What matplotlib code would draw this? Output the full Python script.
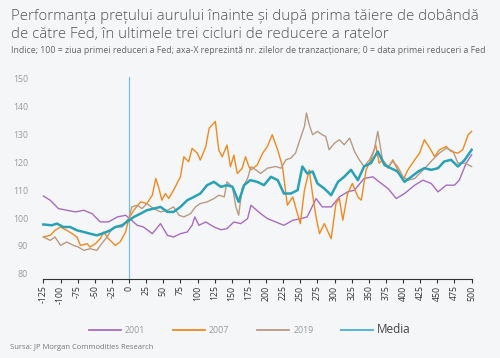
import numpy as np
import matplotlib
matplotlib.use("Agg")
import matplotlib.pyplot as plt

# Days relative to first Fed cut and index values (100 = day of first cut)
days_2001 = [-125, -115, -103, -91, -78, -66, -54, -42, -30, -17, -5, 0, 12, 21, 34, 46, 56, 65, 75, 85,
             92, 96, 102, 112, 124, 134, 143, 153, 163, 173, 178, 192, 202, 214, 226, 239, 251, 260, 273,
             282, 295, 307, 319, 329, 343, 356, 365, 378, 390, 402, 417, 429, 441, 451, 463, 475, 482, 492, 500]
vals_2001 = [107.9, 106.4, 103.4, 102.8, 102.2, 102.8, 101.6, 98.6, 98.6, 100.4, 101.0, 100.0, 97.4, 96.8,
             94.4, 98.0, 93.8, 93.2, 94.4, 95.0, 97.4, 100.4, 97.4, 98.6, 96.8, 95.8, 96.2, 98.6, 98.0, 99.8,
             104.6, 101.6, 99.8, 98.6, 97.4, 99.2, 99.8, 100.4, 107.0, 104.0, 104.0, 107.6, 109.4, 110.0,
             114.2, 114.8, 113.0, 110.6, 107.0, 108.8, 111.8, 113.6, 112.4, 109.4, 111.8, 111.8, 113.6,
             119.7, 122.7]

days_2007 = [-125, -115, -108, -100, -91, -83, -76, -71, -61, -57, -49, -42, -37, -30, -20, -13, -5, 0, 7,
             17, 26, 34, 39, 43, 48, 53, 58, 65, 75, 80, 87, 92, 100, 104, 112, 117, 124, 126, 131, 136,
             143, 148, 153, 158, 165, 170, 175, 178, 187, 195, 202, 209, 217, 224, 231, 239, 243, 250, 256,
             263, 268, 273, 278, 285, 295, 302, 307, 312, 319, 326, 334, 339, 346, 353, 360, 365, 370, 378,
             385, 392, 400, 407, 417, 424, 431, 439, 446, 453, 463, 470, 480, 487, 495, 500]
vals_2007 = [93.2, 93.8, 95.6, 96.8, 95.6, 94.4, 93.2, 90.2, 90.8, 89.6, 90.8, 92.6, 95.0, 92.6, 90.2, 91.4,
             95.0, 100.0, 102.8, 105.8, 105.2, 108.2, 114.2, 111.2, 106.4, 108.8, 107.0, 110.0, 114.8, 122.0,
             120.2, 125.0, 123.2, 120.8, 125.6, 132.3, 134.1, 134.7, 124.4, 122.0, 126.2, 118.4, 122.6, 116.0,
             117.8, 122.0, 118.4, 117.3, 119.0, 123.3, 125.7, 129.9, 124.4, 118.5, 104.6, 107.6, 104.0, 98.0,
             110.0, 117.3, 108.2, 100.4, 94.4, 98.0, 92.6, 105.2, 107.0, 99.2, 108.8, 112.4, 107.6, 106.4,
             117.3, 120.9, 126.3, 119.7, 120.9, 117.9, 120.9, 117.3, 113.6, 117.3, 120.9, 123.3, 128.1, 125.1,
             122.0, 124.5, 125.7, 123.9, 123.3, 124.5, 129.9, 131.1]

days_2019 = [-125, -115, -108, -100, -91, -81, -74, -66, -57, -47, -40, -32, -25, -17, -10, -3, 0, 4, 12, 19,
             26, 36, 46, 56, 65, 73, 80, 90, 97, 104, 114, 124, 131, 139, 143, 151, 156, 160, 165, 173, 178,
             185, 192, 202, 214, 222, 229, 236, 243, 251, 256, 259, 263, 268, 275, 282, 287, 292, 300, 307,
             314, 322, 329, 336, 343, 351, 358, 363, 370, 378, 385, 392, 400, 407, 417, 424, 434, 443, 453,
             463, 473, 480, 490, 500]
vals_2019 = [93.2, 92.0, 93.2, 90.2, 91.4, 90.2, 89.6, 88.4, 89.0, 88.4, 90.8, 93.2, 96.2, 96.8, 96.8, 99.2,
             100.0, 104.0, 104.6, 103.4, 105.2, 103.4, 102.2, 102.8, 104.0, 101.0, 100.4, 101.6, 104.0, 105.2,
             105.8, 107.0, 108.2, 107.6, 113.0, 111.2, 104.0, 101.0, 110.6, 114.2, 118.4, 117.3, 116.0, 117.9,
             118.5, 117.9, 120.9, 121.5, 123.3, 129.3, 132.9, 137.7, 133.5, 129.9, 131.1, 129.9, 129.3, 124.5,
             126.9, 128.1, 126.3, 128.7, 123.9, 120.9, 118.5, 120.9, 124.5, 131.1, 120.9, 118.5, 120.3, 118.5,
             114.8, 113.6, 114.2, 116.0, 118.5, 120.9, 123.3, 125.1, 123.9, 119.7, 119.7, 118.5]

days_media = [-125, -113, -105, -96, -86, -76, -66, -57, -47, -37, -27, -20, -10, 0, 7, 17, 26, 36, 46, 56,
              65, 75, 85, 95, 104, 114, 124, 134, 143, 151, 156, 160, 168, 177, 187, 197, 207, 217, 226, 236,
              246, 253, 260, 268, 275, 285, 295, 305, 314, 324, 334, 343, 353, 363, 373, 382, 392, 402, 412,
              422, 431, 441, 451, 460, 470, 480, 490, 500]
vals_media = [97.7, 97.4, 98.0, 96.8, 96.8, 95.6, 95.0, 94.4, 93.8, 94.6, 95.6, 96.8, 97.4, 99.2, 100.4,
              101.6, 102.8, 103.4, 104.0, 102.2, 102.2, 104.0, 106.4, 107.6, 108.8, 111.8, 113.0, 111.2, 111.8,
              111.2, 108.2, 105.8, 111.8, 113.6, 113.0, 111.8, 114.8, 113.6, 108.8, 108.8, 110.0, 118.5, 116.0,
              116.7, 112.4, 110.6, 108.2, 113.0, 114.8, 117.3, 113.6, 118.5, 119.7, 123.9, 119.0, 117.9, 116.7,
              113.0, 114.8, 116.7, 117.9, 117.3, 117.9, 120.3, 120.9, 118.5, 120.9, 124.5]

xticks = list(range(-125, 501, 25))
yticks = list(range(80, 151, 10))

bg = "#f5f6f8"
plt.rcParams["font.family"] = ["Open Sans", "DejaVu Sans"]

fig = plt.figure(figsize=(5, 3.58), dpi=100, facecolor=bg)
ax = fig.add_axes([0.084, 0.222, 0.862, 0.562], facecolor=bg)

ax.axvline(0, color="#7dbfd6", lw=0.9, zorder=1)
l1, = ax.plot(days_2001, vals_2001, color="#a86cc1", lw=1.0, label="2001")
l2, = ax.plot(days_2007, vals_2007, color="#ef8a22", lw=1.0, label="2007")
l3, = ax.plot(days_2019, vals_2019, color="#b99a82", lw=1.0, label="2019")
l4, = ax.plot(days_media, vals_media, color="#2aa1b5", lw=1.8, label="Media")

ax.set_xlim(-127, 502)
ax.set_ylim(78.3, 150.5)
ax.set_xticks(xticks)
ax.set_xticklabels([str(t) for t in xticks], rotation=90, fontsize=6.3, color="#333333")
ax.set_yticks(yticks)
ax.set_yticklabels([str(t) for t in yticks], fontsize=6.3, color="#9a9a9a")
ax.tick_params(axis="y", length=0, pad=10)
ax.tick_params(axis="x", length=3, width=0.8, color="#333333", pad=2)
for s in ["top", "right", "left"]:
    ax.spines[s].set_visible(False)
ax.spines["bottom"].set_color("#333333")
ax.spines["bottom"].set_linewidth(0.8)
ax.spines["bottom"].set_bounds(-125, 500)

fig.text(0.022, 0.975, "Performanța prețului aurului înainte și după prima tăiere de dobândă\n"
         "de către Fed, în ultimele trei cicluri de reducere a ratelor",
         fontsize=10.8, color="#555555", fontweight="light", va="top", linespacing=1.3)
fig.text(0.022, 0.86, "Indice; 100 = ziua primei reduceri a Fed; axa-X reprezintă nr. zilelor de "
         "tranzacționare; 0 = data primei reduceri a Fed",
         fontsize=6.35, color="#666666", va="center")

leg = fig.legend(handles=[l1, l2, l3, l4], loc="center", bbox_to_anchor=(0.5, 0.08), ncol=4,
                 frameon=False, handlelength=3.6, columnspacing=3.2, handletextpad=0.5, fontsize=6.3)
for line in leg.get_lines():
    line.set_linewidth(1.3)
leg.get_lines()[3].set_color("#4aaed3")
for t in leg.get_texts()[:3]:
    t.set_color("#999999")
leg.get_texts()[3].set_fontsize(8.5)
leg.get_texts()[3].set_color("#444444")

fig.text(0.02, 0.03, "Sursa: JP Morgan Commodities Research", fontsize=5.5, color="#777777", va="center")

fig.savefig("out.png", dpi=100, facecolor=bg)
plt.close()
